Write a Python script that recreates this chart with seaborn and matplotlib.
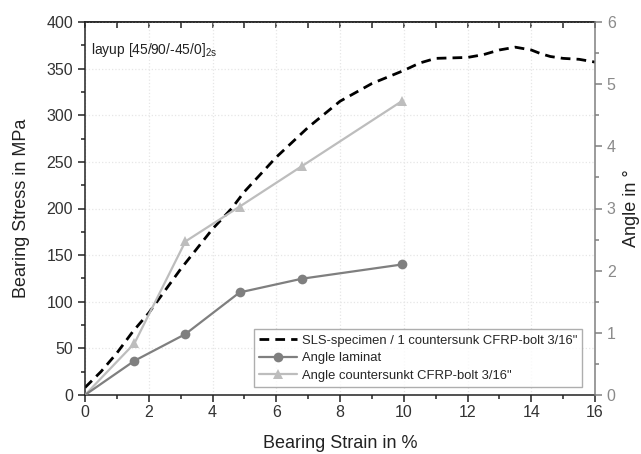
import matplotlib
matplotlib.use("Agg")
import matplotlib.pyplot as plt
import seaborn as sns
import pandas as pd
from matplotlib.ticker import MultipleLocator

# Data
sls_strain = [0, 0.5, 1, 1.5, 2, 3, 4, 4.6, 5, 6, 7, 8, 9, 10, 10.5, 11, 12, 12.5, 13, 13.5, 14, 14.3, 14.6, 15, 15.5, 16]
sls_stress = [8, 25, 45, 68, 88, 135, 178, 200, 218, 255, 287, 315, 334, 348, 356, 361, 362, 365, 370, 373, 370, 366, 363, 361, 360, 357]

lam_strain = [0, 1.55, 3.15, 4.85, 6.8, 9.95]
lam_angle = [0, 0.55, 0.98, 1.65, 1.87, 2.1]

csk_strain = [0, 1.55, 3.15, 4.85, 6.8, 9.95]
csk_angle = [0, 0.83, 2.47, 3.03, 3.68, 4.73]

label_sls = 'SLS-specimen / 1 countersunk CFRP-bolt 3/16"'
label_lam = "Angle laminat"
label_csk = 'Angle countersunkt CFRP-bolt 3/16"'

sns.set_style("white")
plt.rcParams["font.family"] = ["Liberation Sans", "DejaVu Sans"]

fig = plt.figure(figsize=(6.41, 4.54), dpi=100)
ax = fig.add_axes([85/641, 1-395/454, (595-85)/641, (395-22)/454])
ax2 = ax.twinx()

df_sls = pd.DataFrame({"x": sls_strain, "y": sls_stress})
df_lam = pd.DataFrame({"x": lam_strain, "y": lam_angle})
df_csk = pd.DataFrame({"x": csk_strain, "y": csk_angle})

sns.lineplot(data=df_sls, x="x", y="y", ax=ax, color="black", lw=2.0,
             linestyle=(0, (3.5, 2.2)), label=label_sls, legend=False)
sns.lineplot(data=df_csk, x="x", y="y", ax=ax2, color="#bdbdbd", lw=1.6,
             marker="^", markersize=7, markeredgewidth=0, markevery=list(range(1, len(csk_strain))),
             label=label_csk, legend=False)
sns.lineplot(data=df_lam, x="x", y="y", ax=ax2, color="#7f7f7f", lw=1.6,
             marker="o", markersize=7, markeredgewidth=0, markevery=list(range(1, len(lam_strain))),
             label=label_lam, legend=False)

ax.set_xlim(0, 16)
ax.set_ylim(0, 400)
ax2.set_ylim(0, 6)

ax.xaxis.set_major_locator(MultipleLocator(2))
ax.xaxis.set_minor_locator(MultipleLocator(1))
ax.yaxis.set_major_locator(MultipleLocator(50))
ax.yaxis.set_minor_locator(MultipleLocator(25))
ax2.yaxis.set_major_locator(MultipleLocator(1))
ax2.yaxis.set_minor_locator(MultipleLocator(0.5))

ax.grid(True, which="major", color="#e6e6e6", linestyle=":", linewidth=0.9)
ax.set_axisbelow(True)

for s in ["left", "bottom", "top"]:
    ax.spines[s].set_color("#222222")
    ax.spines[s].set_linewidth(1.1)
ax2.spines["right"].set_color("#808080")
ax2.spines["right"].set_linewidth(1.1)
for s in ["left", "bottom", "top"]:
    ax2.spines[s].set_visible(False)
ax.spines["right"].set_visible(False)

ax.tick_params(axis="both", which="both", direction="out", colors="#222222",
               labelcolor="#333333", labelsize=11.5, bottom=True, left=True, top=False)
ax.tick_params(axis="both", which="major", length=5, width=1.1)
ax.tick_params(axis="both", which="minor", length=3, width=1.1)
ax.tick_params(axis="x", which="major", pad=2)
ax2.tick_params(axis="y", which="both", direction="out", colors="#808080",
                labelcolor="#8a8a8a", labelsize=11.5, width=1.1)
ax2.tick_params(axis="y", which="major", length=5)
ax2.tick_params(axis="y", which="minor", length=3)

# inward top ticks via secondary x axis
sec = ax.secondary_xaxis("top")
sec.xaxis.set_major_locator(MultipleLocator(1))
sec.tick_params(axis="x", direction="in", length=4, width=1.1, labeltop=False, colors="#222222")
sec.spines["top"].set_color("#222222")
sec.spines["top"].set_linewidth(1.1)

ax.set_xlabel("Bearing Strain in %", fontsize=13, color="#222222", labelpad=11)
ax.set_ylabel("Bearing Stress in MPa", fontsize=13, color="#222222", labelpad=12)
ax2.set_ylabel("Angle in °", fontsize=13, color="#222222", labelpad=5)

ax.text(0.012, 0.925, r"layup [45/90/-45/0]$_{\mathregular{2s}}$", transform=ax.transAxes,
        fontsize=10, color="#222222", va="center", ha="left")

h1, l1 = ax.get_legend_handles_labels()
h2, l2 = ax2.get_legend_handles_labels()
handles = h1 + [h2[1], h2[0]]
labels = l1 + [l2[1], l2[0]]
leg = ax2.legend(handles, labels, loc="lower right", bbox_to_anchor=(0.988, 0.004),
                 fontsize=9.4, frameon=True, fancybox=False, edgecolor="#9a9a9a",
                 handlelength=2.9, borderpad=0.4, labelspacing=0.42, handletextpad=0.35)
leg.get_frame().set_linewidth(1.0)

fig.savefig("out.png", dpi=100, facecolor="white")
